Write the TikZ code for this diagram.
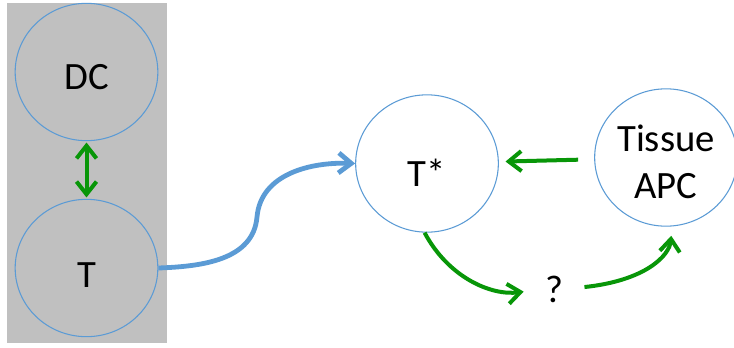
\documentclass[tikz,border=0pt]{standalone}
\usepackage{fontspec}
\setmainfont{Carlito}
\usetikzlibrary{arrows.meta,shapes.geometric}
\definecolor{cellblue}{RGB}{91,155,213}
\definecolor{signalgreen}{RGB}{8,150,8}
\definecolor{nodegrey}{RGB}{192,192,192}
\newcommand{\lowered}[2]{\raisebox{-#1}[\height][\depth]{#2}}
\tikzset{
  barb/.tip={Straight Barb[length=9.5pt,width=15pt]},
  cell/.style={ellipse,draw=cellblue,line width=0.8pt,inner sep=0pt,
    minimum width=107pt,minimum height=103pt,align=center,
    font=\fontsize{29}{35}\selectfont},
  signal/.style={draw=signalgreen,line width=3pt,-barb},
  migrate/.style={draw=cellblue,line width=3.6pt,-barb},
}

\begin{document}
\begin{tikzpicture}[x=0.75pt,y=0.75pt]
  \useasboundingbox (0,0) rectangle (734,347);
  \fill[nodegrey] (7,4) rectangle (167,344);

  \node[cell]            (dc)  at (86.5,275)  {\lowered{3.5pt}{DC}};
  \node[cell]            (t)   at (86.5,79)   {\lowered{5pt}{T}};
  \node[cell,fill=white] (ts)  at (427,183.5) {\lowered{7pt}{T*}};
  \node[cell,fill=white] (apc) at (666,189.5) {\lowered{3pt}{Tissue}\\\lowered{3pt}{APC}};
  \node[font=\fontsize{29}{35}\selectfont,inner sep=2pt] (q) at (554,58) {?};
  \coordinate (bend) at (257,130);

  \draw[signal,barb-barb,shorten <=1pt,shorten >=1pt] (dc) -- (t);
  \draw[migrate] (t.east) to[out=2,in=-95] (bend) to[out=85,in=178] (ts.west);
  \draw[signal,shorten <=12pt,shorten >=5pt] (apc) -- (ts);
  \draw[signal,shorten >=14pt] (ts.-92) to[out=-62,in=188] (q.west);
  \draw[signal,shorten <=14pt,shorten >=7pt]
    (q.east) .. controls +(6:60pt) and +(-95:22pt) .. (apc.-85);
\end{tikzpicture}
\end{document}
